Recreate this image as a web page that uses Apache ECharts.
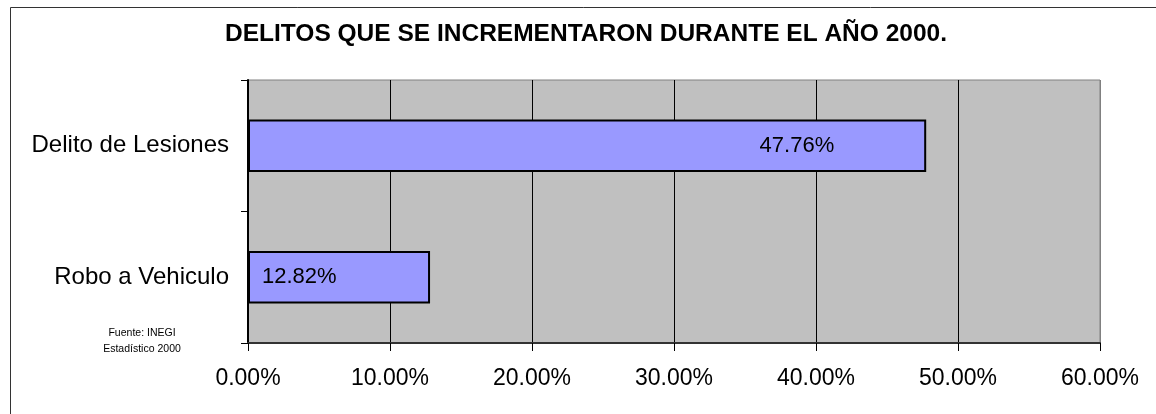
<!DOCTYPE html>
<html>
<head>
<meta charset="utf-8">
<script src="https://cdn.jsdelivr.net/npm/echarts@6/dist/echarts.min.js"></script>
<style>
html,body{margin:0;padding:0;background:#fff;}
#chart{width:1156px;height:414px;}
</style>
</head>
<body>
<div id="chart"></div>
<script>
var titleText = 'DELITOS QUE SE INCREMENTARON DURANTE EL AÑO 2000.';
var categories = ['Robo a Vehiculo', 'Delito de Lesiones'];
var values = [12.82, 47.76];
var sourceLines = ['Fuente: INEGI', 'Estadístico 2000'];
var xTicks = [0, 10, 20, 30, 40, 50, 60];

var FONT = '"Liberation Sans", Arial, sans-serif';
var chart = echarts.init(document.getElementById('chart'), null, {renderer: 'canvas'});

var seriesData = values.map(function (v, i) {
  var lbl = i === 0
    ? {position: 'insideLeft', distance: 14}
    : {position: 'insideRight', distance: 92};
  return {value: v, label: lbl};
});

var option = {
  animation: false,
  backgroundColor: '#ffffff',
  grid: {
    left: 248, right: 56, top: 80, bottom: 71,
    show: true, backgroundColor: '#c0c0c0', borderColor: '#808080', borderWidth: 1,
    containLabel: false
  },
  xAxis: {
    type: 'value',
    min: xTicks[0], max: xTicks[xTicks.length - 1], interval: 10,
    axisLine: {show: true, lineStyle: {color: '#333333', width: 2}},
    axisTick: {show: true, length: 8, lineStyle: {color: '#000000', width: 1}},
    axisLabel: {
      margin: 24, color: '#000000', fontFamily: FONT, fontSize: 23,
      formatter: function (v) { return v.toFixed(2) + '%'; }
    },
    splitLine: {show: true, lineStyle: {color: ['#000000','#000000','#000000','#000000','#000000','#000000','#808080'], width: 1}}
  },
  yAxis: {
    type: 'category',
    data: categories,
    boundaryGap: true,
    axisLine: {show: true, lineStyle: {color: '#000000', width: 2}},
    axisTick: {show: true, length: 7, alignWithLabel: false, lineStyle: {color: '#000000', width: 1}},
    axisLabel: {margin: 19, color: '#000000', fontFamily: FONT, fontSize: 24},
    splitLine: {show: false}
  },
  series: [{
    type: 'bar',
    data: seriesData,
    barWidth: '40%',
    itemStyle: {color: '#9999ff', borderColor: '#000000', borderWidth: 2},
    label: {
      show: true, color: '#000000', fontFamily: FONT, fontSize: 22,
      formatter: function (p) { return p.value.toFixed(2) + '%'; }
    }
  }],
  graphic: [
    {
      type: 'rect', left: 8, top: 5, silent: true, z: 100,
      shape: {x: 0, y: 0, width: 1170, height: 430},
      style: {fill: null, stroke: '#333333', lineWidth: 1}
    },
    {
      type: 'text', x: 586, y: 34, z: 100,
      style: {text: titleText, font: 'bold 24.5px ' + FONT, fill: '#000000', align: 'center', verticalAlign: 'middle'}
    },
    {
      type: 'text', x: 142, y: 333, z: 100,
      style: {text: sourceLines[0], font: '10.5px ' + FONT, fill: '#000000', align: 'center', verticalAlign: 'middle'}
    },
    {
      type: 'text', x: 142, y: 349, z: 100,
      style: {text: sourceLines[1], font: '10.5px ' + FONT, fill: '#000000', align: 'center', verticalAlign: 'middle'}
    }
  ]
};
chart.setOption(option);
</script>
</body>
</html>
